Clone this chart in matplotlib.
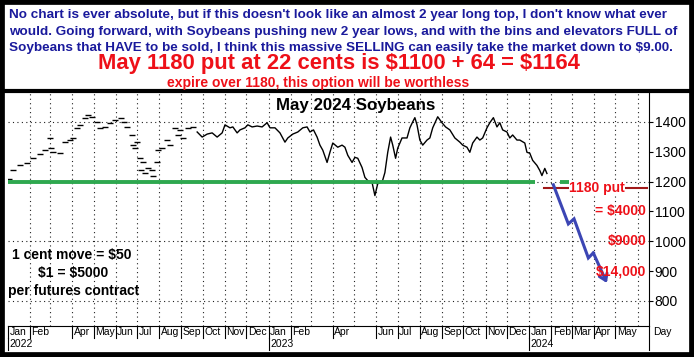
import matplotlib
matplotlib.use("Agg")
import matplotlib.pyplot as plt
import pandas as pd
from matplotlib.patches import Rectangle
from matplotlib.lines import Line2D
from matplotlib.transforms import blended_transform_factory

# ---------------- DATA ----------------
# thin early trading, drawn as loose dashes
early_dates = ["2022-01-03", "2022-01-08", "2022-01-18", "2022-01-28", "2022-02-05", "2022-02-15",
               "2022-02-22", "2022-03-01", "2022-03-02", "2022-03-05", "2022-03-15", "2022-03-22",
               "2022-03-29", "2022-04-02", "2022-04-08", "2022-04-12", "2022-04-19", "2022-04-23",
               "2022-04-29", "2022-05-06", "2022-05-10", "2022-05-17", "2022-05-24", "2022-05-31",
               "2022-06-08", "2022-06-12", "2022-06-17", "2022-06-24", "2022-06-25", "2022-06-28",
               "2022-07-01", "2022-07-05", "2022-07-06", "2022-07-09", "2022-07-12", "2022-07-16",
               "2022-07-22", "2022-07-23", "2022-07-29", "2022-07-30", "2022-08-05", "2022-08-12",
               "2022-08-16", "2022-08-23", "2022-08-27", "2022-08-30", "2022-09-03", "2022-09-10",
               "2022-09-17"]
early_vals = [1210, 1237, 1254, 1261, 1278, 1291, 1305, 1346, 1312, 1298, 1295, 1332, 1339, 1346,
              1380, 1390, 1413, 1424, 1417, 1400, 1380, 1383, 1397, 1407, 1414, 1400, 1383, 1356,
              1322, 1312, 1332, 1278, 1237, 1264, 1230, 1247, 1237, 1220, 1264, 1305, 1312, 1339,
              1322, 1380, 1356, 1373, 1346, 1380, 1383]

price_dates = ["2022-09-23", "2022-09-30", "2022-10-07", "2022-10-14", "2022-10-21", "2022-10-28",
               "2022-11-01", "2022-11-08", "2022-11-12", "2022-11-18", "2022-11-22", "2022-11-29",
               "2022-12-03", "2022-12-09", "2022-12-16", "2022-12-23", "2022-12-30", "2023-01-03",
               "2023-01-10", "2023-01-17", "2023-01-24", "2023-01-28", "2023-02-04", "2023-02-11",
               "2023-02-18", "2023-02-24", "2023-02-28", "2023-03-05", "2023-03-10", "2023-03-14",
               "2023-03-18", "2023-03-24", "2023-03-28", "2023-04-01", "2023-04-08", "2023-04-14",
               "2023-04-18", "2023-04-22", "2023-04-28", "2023-05-02", "2023-05-06", "2023-05-12",
               "2023-05-16", "2023-05-20", "2023-05-26", "2023-05-30", "2023-06-03", "2023-06-09",
               "2023-06-13", "2023-06-17", "2023-06-21", "2023-06-24", "2023-06-28", "2023-07-01",
               "2023-07-07", "2023-07-14", "2023-07-18", "2023-07-22", "2023-07-25", "2023-07-28",
               "2023-08-01", "2023-08-05", "2023-08-11", "2023-08-15", "2023-08-19", "2023-08-26",
               "2023-09-01", "2023-09-06", "2023-09-12", "2023-09-19", "2023-09-26", "2023-09-30",
               "2023-10-06", "2023-10-10", "2023-10-14", "2023-10-20", "2023-10-24", "2023-10-28",
               "2023-11-03", "2023-11-07", "2023-11-12", "2023-11-17", "2023-11-21", "2023-11-25",
               "2023-12-01", "2023-12-05", "2023-12-09", "2023-12-15", "2023-12-19", "2023-12-26",
               "2023-12-29", "2024-01-02", "2024-01-06", "2024-01-12", "2024-01-16", "2024-01-19",
               "2024-01-23", "2024-01-26"]
price_vals = [1366, 1349, 1359, 1363, 1349, 1363, 1390, 1380, 1383, 1363, 1373, 1380,
              1390, 1383, 1386, 1383, 1397, 1380, 1380, 1363, 1332, 1346, 1359, 1366,
              1380, 1383, 1366, 1373, 1349, 1322, 1305, 1264, 1298, 1329, 1315, 1322,
              1315, 1288, 1264, 1281, 1278, 1247, 1214, 1203, 1197, 1153, 1193, 1197,
              1230, 1298, 1349, 1322, 1278, 1312, 1346, 1346, 1380, 1400, 1414, 1390,
              1339, 1322, 1339, 1346, 1380, 1417, 1397, 1383, 1373, 1346, 1332, 1322,
              1315, 1298, 1329, 1349, 1339, 1346, 1380, 1397, 1414, 1383, 1397, 1373,
              1366, 1346, 1356, 1339, 1339, 1329, 1298, 1295, 1271, 1254, 1237, 1220,
              1244, 1227]

support_level = 1197
support_spans = [("2022-01-01", "2024-01-09"), ("2024-02-13", "2024-03-03")]

put_strike = 1180
put_span = ("2024-01-22", "2024-06-14")

arrow_dates = ["2024-02-04", "2024-02-25", "2024-03-04", "2024-03-24", "2024-03-31", "2024-04-19"]
arrow_vals = [1189, 1058, 1075, 944, 961, 860]

payoff_labels = ["= \\$4000", "\\$9000", "\\$14,000"]
payoff_levels = [1100, 1000, 900]

y_ticks = [800, 900, 1000, 1100, 1200, 1300, 1400]
grid_levels = [800, 1000, 1200, 1400]

band_months = ["2022-01", "2022-02", "2022-04", "2022-05", "2022-06", "2022-07", "2022-08",
               "2022-09", "2022-10", "2022-11", "2022-12", "2023-01", "2023-02", "2023-04",
               "2023-06", "2023-07", "2023-08", "2023-09", "2023-10", "2023-11", "2023-12",
               "2024-01", "2024-02", "2024-03", "2024-04", "2024-05"]
band_years = ["2022", "2023", "2024"]

header_lines = [
    "No chart is ever absolute, but if this doesn't look like an almost 2 year long top, I don't know what ever",
    "would. Going forward, with Soybeans pushing new 2 year lows, and with the bins and elevators FULL of",
    "Soybeans that HAVE to be sold, I think this massive SELLING can easily take the market down to \\$9.00.",
]
# --------------------------------------

W, H = 694, 357
SANS = ["Liberation Sans"]
NAVY = "#1a1a9c"
RED = "#ee1018"


def fx(px):
    return px / W


def fy(py):
    return 1 - py / H


fig = plt.figure(figsize=(W / 100, H / 100), dpi=100)
ax = fig.add_axes([fx(8), fy(326), fx(649) - fx(8), fy(92) - fy(326)])

x0, x1 = pd.Timestamp("2022-01-01"), pd.Timestamp("2024-06-17")
ax.set_xlim(x0, x1)
ax.set_ylim(716, 1500)

# dotted grid
dots = (0, (1, 3))
for m in pd.date_range("2022-02-01", "2024-06-01", freq="MS"):
    ax.axvline(m, color="#222222", lw=0.8, ls=dots, zorder=1)
for lv in grid_levels:
    ax.axhline(lv, color="#222222", lw=0.8, ls=dots, zorder=1)

# price
ax.plot(pd.to_datetime(early_dates), early_vals, ls="none", marker="_", ms=4, mew=1,
        color="black", zorder=3)
ax.plot(pd.to_datetime(price_dates), price_vals, color="black", lw=1, zorder=3)

# support line
for a, b in support_spans:
    ax.plot([pd.Timestamp(a), pd.Timestamp(b)], [support_level] * 2, color="#2ea84f",
            lw=2.8, solid_capstyle="butt", zorder=4)

# put strike line
ax.plot([pd.Timestamp(put_span[0]), pd.Timestamp(put_span[1])], [put_strike] * 2,
        color="#a01818", lw=1.5, clip_on=False, zorder=4)
ax.text(pd.Timestamp("2024-04-05"), put_strike, "1180 put", ha="center", va="center",
        color=RED, fontsize=10, fontweight="bold", family=SANS, zorder=6,
        bbox=dict(facecolor="white", edgecolor="none", pad=0.3))

# projected path
adates = pd.to_datetime(arrow_dates)
ax.plot(adates[:-1], arrow_vals[:-1], color="#3c46b4", lw=2.2, solid_joinstyle="miter", zorder=5)
ax.annotate("", xy=(adates[-1], arrow_vals[-1]), xytext=(adates[-2], arrow_vals[-2]),
            arrowprops=dict(arrowstyle="->,head_length=0.45,head_width=0.3", color="#3c46b4",
                            lw=2.2, shrinkA=0, shrinkB=0), zorder=5)

for lab, lv in zip(payoff_labels, payoff_levels):
    ax.text(pd.Timestamp("2024-06-13"), lv, lab, ha="right", va="center", color=RED,
            fontsize=10, fontweight="bold", family=SANS, zorder=6)

# axes styling
for s in ["left", "top"]:
    ax.spines[s].set_visible(False)
ax.spines["bottom"].set_linewidth(0.8)
ax.spines["right"].set_linewidth(0.8)
ax.set_xticks([])
ax.yaxis.tick_right()
ax.set_yticks(y_ticks)
ax.set_yticklabels([str(v) for v in y_ticks], fontsize=10, family=SANS)
ax.tick_params(axis="y", length=3, width=0.8, pad=1)

# month / year band
tr = blended_transform_factory(ax.transData, ax.transAxes)
row = 12 / 234
for m in band_months:
    d = pd.Timestamp(m + "-01")
    ax.add_line(Line2D([d, d], [0, -row], transform=tr, color="black", lw=0.8, clip_on=False))
    ax.text(d + pd.Timedelta(days=2), -row / 2, d.strftime("%b"), transform=tr, ha="left",
            va="center", fontsize=7.5, family=SANS, clip_on=False)
for y in band_years:
    d = pd.Timestamp(y + "-01-01")
    ax.add_line(Line2D([d, d], [-row, -2 * row], transform=tr, color="black", lw=0.8, clip_on=False))
    ax.text(d + pd.Timedelta(days=2), -1.5 * row, y, transform=tr, ha="left", va="center",
            fontsize=7.5, family=SANS, clip_on=False)

fig.add_artist(Line2D([fx(649)] * 2, [fy(326), fy(350)], color="black", lw=0.8))
fig.text(fx(653), fy(332), "Day", ha="left", va="center", fontsize=7.5, family=SANS)

# chart title and notes
fig.text(fx(356), fy(105), "May 2024 Soybeans", ha="center", va="center", fontsize=12.2,
         fontweight="bold", family=SANS)
fig.text(fx(12), fy(255), "1 cent move = \\$50", ha="left", va="center", fontsize=10,
         fontweight="bold", family=SANS)
fig.text(fx(73), fy(273), "\\$1 = \\$5000", ha="center", va="center", fontsize=10,
         fontweight="bold", family=SANS)
fig.text(fx(8), fy(291), "per futures contract", ha="left", va="center", fontsize=10,
         fontweight="bold", family=SANS)

# header
for i, line in enumerate(header_lines):
    fig.text(fx(9), fy(15 + 16.5 * i), line, ha="left", va="center", fontsize=9.7,
             fontweight="bold", family=SANS, color=NAVY)
fig.text(fx(339), fy(64), "May 1180 put at 22 cents is \\$1100 + 64 = \\$1164", ha="center",
         va="center", fontsize=15.8, fontweight="bold", family=SANS, color=RED)
fig.text(fx(318), fy(83), "expire over 1180, this option will be worthless", ha="center",
         va="center", fontsize=10, fontweight="bold", family=SANS, color=RED)

# frames
fig.add_artist(Line2D([0, 1], [fy(91)] * 2, color="black", lw=3))
fig.add_artist(Rectangle((0, 0), 1, 1, transform=fig.transFigure, fill=False,
                         edgecolor="black", lw=7))

fig.savefig("out.png", dpi=100)
